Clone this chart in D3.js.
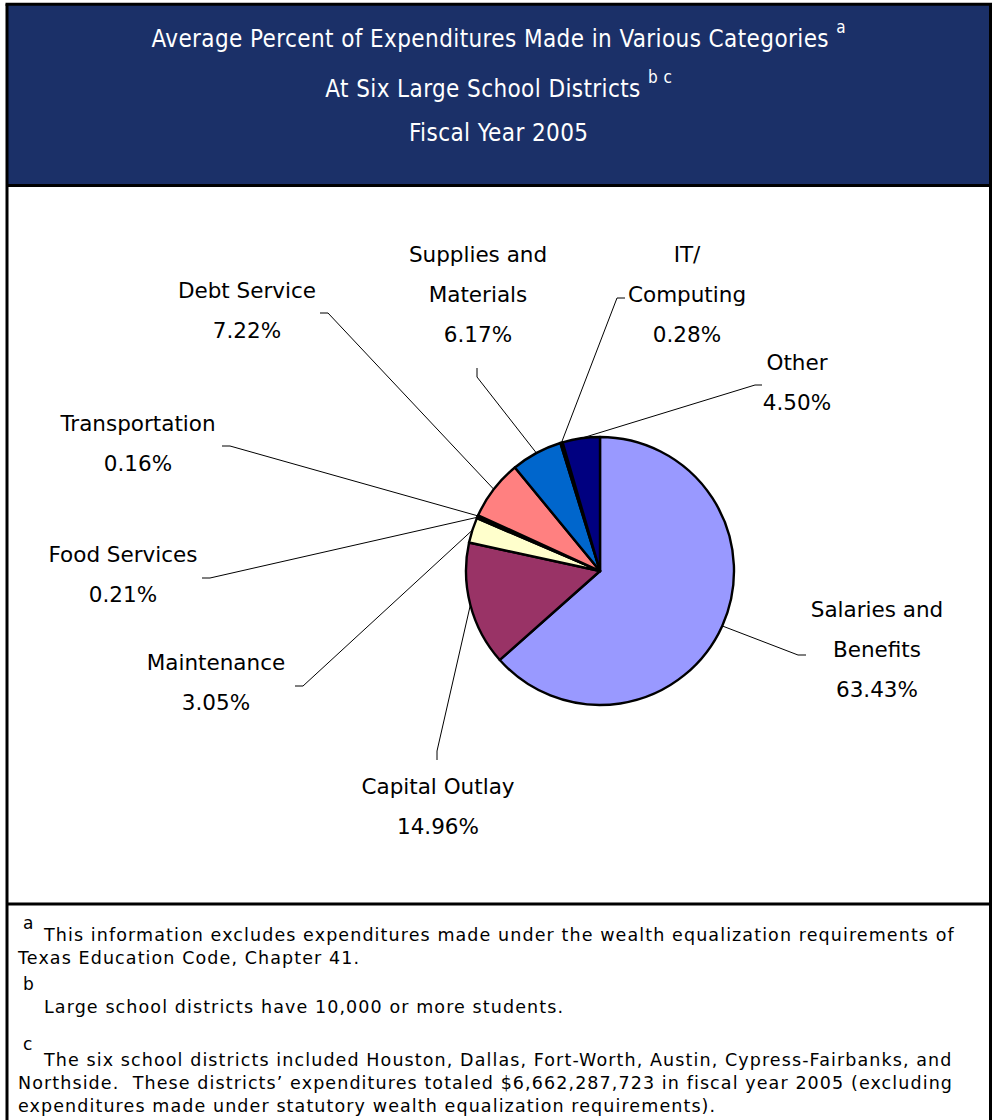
<!DOCTYPE html>
<html>
<head>
<meta charset="utf-8">
<script src="https://cdn.jsdelivr.net/npm/d3@7"></script>
<style>
  html, body { margin: 0; padding: 0; background: #fff; }
  svg { display: block; }
  .title { font-family: "DejaVu Sans Condensed", "DejaVu Sans", sans-serif; font-stretch: condensed; fill: #fff; }
  .lbl { font-family: "DejaVu Sans", sans-serif; fill: #000; }
  .note { font-family: "DejaVu Sans", sans-serif; fill: #000; white-space: pre; }
</style>
</head>
<body>
<script>
// Expenditure categories, clockwise from 12 o'clock
const categories = [
  "Salaries and Benefits", "Capital Outlay", "Maintenance", "Food Services",
  "Transportation", "Debt Service", "Supplies and Materials", "IT/ Computing", "Other"
];
// Average percent of expenditures per category
const percents = [63.43, 14.96, 3.05, 0.21, 0.16, 7.22, 6.17, 0.28, 4.50];
const sliceColors = [
  "#9999FF", "#993366", "#FFFFCC", "#CCFFFF", "#660066",
  "#FF8080", "#0066CC", "#CCCCFF", "#000080"
];
// Label wording, split into the lines shown above each percentage
const labelLines = [
  ["Salaries and", "Benefits"], ["Capital Outlay"], ["Maintenance"], ["Food Services"],
  ["Transportation"], ["Debt Service"], ["Supplies and", "Materials"], ["IT/", "Computing"], ["Other"]
];
const titleLines = [
  ["Average Percent of Expenditures Made in Various Categories", "a"],
  ["At Six Large School Districts", "b c"],
  ["Fiscal Year 2005", ""]
];
const footnotes = [
  { mark: "a", lines: [
    "This information excludes expenditures made under the wealth equalization requirements of",
    "Texas Education Code, Chapter 41."] },
  { mark: "b", lines: ["Large school districts have 10,000 or more students."] },
  { mark: "c", lines: [
    "The six school districts included Houston, Dallas, Fort-Worth, Austin, Cypress-Fairbanks, and",
    "Northside.  These districts\u2019 expenditures totaled $6,662,287,723 in fiscal year 2005 (excluding",
    "expenditures made under statutory wealth equalization requirements)."] }
];

// Label placement: centre x, first baseline, leader start and elbow
const labelLayout = {
  "Salaries and Benefits":  { x: 877, y: 617, start: [806, 655], elbow: [798, 655] },
  "Capital Outlay":         { x: 438, y: 794, start: [437, 760], elbow: [437, 751] },
  "Maintenance":            { x: 216, y: 670, start: [295, 686], elbow: [303, 686] },
  "Food Services":          { x: 123, y: 562, start: [202, 578], elbow: [210, 578] },
  "Transportation":         { x: 138, y: 431, start: [222, 446], elbow: [230, 446] },
  "Debt Service":           { x: 247, y: 298, start: [320, 313], elbow: [328, 313] },
  "Supplies and Materials": { x: 478, y: 262, start: [477, 368], elbow: [477, 377] },
  "IT/ Computing":          { x: 687, y: 262, start: [625, 298], elbow: [617, 298] },
  "Other":                  { x: 797, y: 370, start: [762, 385], elbow: [755, 385] }
};

const W = 992, H = 1120;
const frameL = 7, frameR = 990.5, frameT = 4.3, titleB = 185.5, noteT = 904;
const cx = 600, cy = 571, R = 134;
const lineGap = 40;

const svg = d3.select("body").append("svg")
  .attr("width", W).attr("height", H);

// Title band
svg.append("rect")
  .attr("x", frameL).attr("y", frameT)
  .attr("width", frameR - frameL).attr("height", titleB - frameT)
  .attr("fill", "#1b3068");

const titleBase = [47, 97, 141];
const midX = (frameL + frameR) / 2;
titleLines.forEach(([main, sup], i) => {
  const t = svg.append("text").attr("class", "title")
    .attr("x", midX).attr("y", titleBase[i])
    .attr("text-anchor", "middle")
    .style("font-size", "24px").style("letter-spacing", "0.4px");
  t.append("tspan").text(main + (sup ? " " : ""));
  if (sup) {
    t.append("tspan").attr("dy", -14).style("font-size", "17px").text(sup);
  }
});

// Pie
const pie = d3.pie().sort(null).value(d => d.value)
  .startAngle(0).endAngle(2 * Math.PI);
const slices = pie(categories.map((c, i) => ({ name: c, value: percents[i], color: sliceColors[i], lines: labelLines[i] })));
const arc = d3.arc().innerRadius(0).outerRadius(R);
const rim = d3.arc().innerRadius(R).outerRadius(R);

const g = svg.append("g").attr("transform", `translate(${cx},${cy})`);

// Leader lines run from each label to the rim at the slice's mid-angle
const leaders = svg.append("g").attr("fill", "none").attr("stroke", "#000").attr("stroke-width", 1);
slices.forEach(s => {
  const L = labelLayout[s.data.name];
  const [ex, ey] = rim.centroid(s);
  leaders.append("polyline")
    .attr("points", [L.start, L.elbow, [cx + ex, cy + ey]].map(p => p.join(",")).join(" "));
});

g.selectAll("path.slice").data(slices).join("path")
  .attr("class", "slice")
  .attr("d", arc)
  .attr("fill", d => d.data.color)
  .attr("stroke", "#000")
  .attr("stroke-width", 2.4)
  .attr("stroke-linejoin", "round");

// Category labels with percentage on the last line
const fmt = d3.format(".2f");
slices.forEach(s => {
  const L = labelLayout[s.data.name];
  const rows = s.data.lines.concat([fmt(s.data.value) + "%"]);
  rows.forEach((r, k) => {
    svg.append("text").attr("class", "lbl")
      .attr("x", L.x).attr("y", L.y + k * lineGap)
      .attr("text-anchor", "middle").style("font-size", "21.5px")
      .text(r);
  });
});

// Footnotes
const notePos = [
  { sup: 929, first: 941 },
  { sup: 990, first: 1013 },
  { sup: 1050, first: 1066 }
];
footnotes.forEach((f, i) => {
  const p = notePos[i];
  svg.append("text").attr("class", "note")
    .attr("x", 23).attr("y", p.sup).style("font-size", "17px").text(f.mark);
  f.lines.forEach((ln, k) => {
    svg.append("text").attr("class", "note")
      .attr("x", k === 0 ? 44 : 18).attr("y", p.first + k * 23)
      .style("font-size", "17.5px").style("letter-spacing", "1.1px")
      .text(ln);
  });
});

// Frame and dividers
const frame = svg.append("g").attr("stroke", "#000").attr("stroke-width", 3).attr("fill", "none");
frame.append("line").attr("x1", frameL - 1.5).attr("x2", frameR + 1.5).attr("y1", frameT).attr("y2", frameT);
frame.append("line").attr("x1", frameL).attr("x2", frameL).attr("y1", frameT).attr("y2", H);
frame.append("line").attr("x1", frameR).attr("x2", frameR).attr("y1", frameT).attr("y2", H);
frame.append("line").attr("x1", frameL).attr("x2", frameR).attr("y1", titleB).attr("y2", titleB);
frame.append("line").attr("x1", frameL).attr("x2", frameR).attr("y1", noteT).attr("y2", noteT);
</script>
</body>
</html>
